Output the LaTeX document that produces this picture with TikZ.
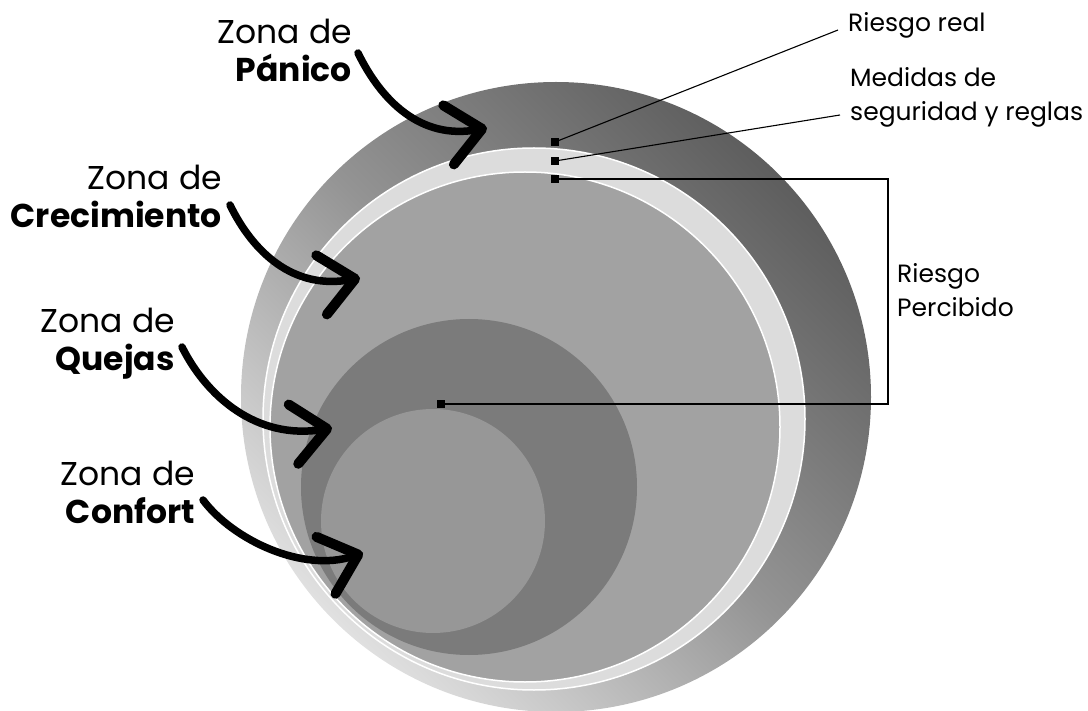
\documentclass[tikz,border=0pt]{standalone}
\usepackage{fontspec}
\setmainfont{Poppins}
\usetikzlibrary{arrows.meta}

\definecolor{outerdark}{HTML}{5E5E5E}
\definecolor{outermid}{HTML}{949494}
\definecolor{outerlight}{HTML}{E0E0E0}
\definecolor{ringgray}{HTML}{DCDCDC}
\definecolor{growgray}{HTML}{A2A2A2}
\definecolor{complaingray}{HTML}{7B7B7B}
\definecolor{comfortgray}{HTML}{979797}

\begin{document}
\begin{tikzpicture}[
    x=1pt, y=-1pt,
    zonelabel/.style={
        font=\fontsize{33}{38}\selectfont,
        align=right,
        anchor=east,
        inner sep=0pt
    },
    sidelabel/.style={
        font=\fontsize{25}{34}\selectfont,
        align=left,
        anchor=west,
        inner sep=0pt
    },
    marker/.style={
        fill=black,
        minimum size=8pt,
        inner sep=0pt
    },
    leader/.style={
        line width=1.1pt
    },
    zonearrow/.style={
        line width=7.5pt,
        line cap=round,
        -{Straight Barb[length=34pt, width=60pt, line width=10pt, round]}
    }
]

\useasboundingbox (0,0) rectangle (1088,711);

% ==================================================
% Circles
% ==================================================

% Riesgo real
\shade[top color=outerdark, bottom color=outerlight, middle color=outermid,
       shading angle=-45]
    (556,397) circle[radius=315];

% Medidas de seguridad y reglas
\draw[fill=ringgray, draw=white, line width=1.5pt]
    (534,419) circle[radius=271];

% Crecimiento
\draw[fill=growgray, draw=white, line width=1.5pt]
    (525,427) circle[radius=255];

% Quejas
\fill[complaingray] (469,487) circle[radius=168];

% Confort
\fill[comfortgray] (433,521) circle[radius=112];

% ==================================================
% Labels on the right
% ==================================================

\node[sidelabel] (riesgoreal) at (848,25) {Riesgo real};

\node[sidelabel] (medidas) at (850,97)
    {Medidas de\\seguridad y reglas};

\node[sidelabel] (percibido) at (897,290)
    {Riesgo\\Percibido};

% Markers
\node[marker] (mReal) at (555,142) {};
\node[marker] (mMedidas) at (555,161) {};
\node[marker] (mPercibido) at (555,179) {};
\node[marker] (mInterior) at (441,404) {};

\coordinate (pbar) at ([xshift=-9pt]percibido.west);

\draw[leader] (mReal.center) -- ([xshift=-10pt,yshift=-5pt]riesgoreal.west);
\draw[leader] (mMedidas.center) -- ([xshift=-10pt,yshift=-18pt]medidas.west);
\draw[leader] (mPercibido.center) -| (pbar) |- (mInterior.center);

% ==================================================
% Zones on the left
% ==================================================

\node[zonelabel] (panico) at (352,50)
    {Zona de\\\textbf{Pánico}};

\node[zonelabel] (crecimiento) at (222,196)
    {Zona de\\\textbf{Crecimiento}};

\node[zonelabel] (quejas) at (175,344)
    {Zona de\\\textbf{Quejas}};

\node[zonelabel] (confort) at (195,492)
    {Zona de\\\textbf{Confort}};

% Arrow tips inside the circles
\coordinate (tipPanico) at (487,128);
\coordinate (tipCrecimiento) at (360,278);
\coordinate (tipQuejas) at (332,428);
\coordinate (tipConfort) at (363,553);

\draw[zonearrow] ([xshift=6pt,yshift=-3pt]panico.east)
    .. controls +(23,47) and +(-67,12) .. (tipPanico);

\draw[zonearrow] ([xshift=8pt,yshift=-9pt]crecimiento.east)
    .. controls +(23,47) and +(-67,12) .. (tipCrecimiento);

\draw[zonearrow] ([xshift=7pt,yshift=-3pt]quejas.east)
    .. controls +(25,50) and +(-75,12) .. (tipQuejas);

\draw[zonearrow] ([xshift=8pt,yshift=-8pt]confort.east)
    .. controls +(30,40) and +(-60,20) .. (tipConfort);

\end{tikzpicture}
\end{document}
